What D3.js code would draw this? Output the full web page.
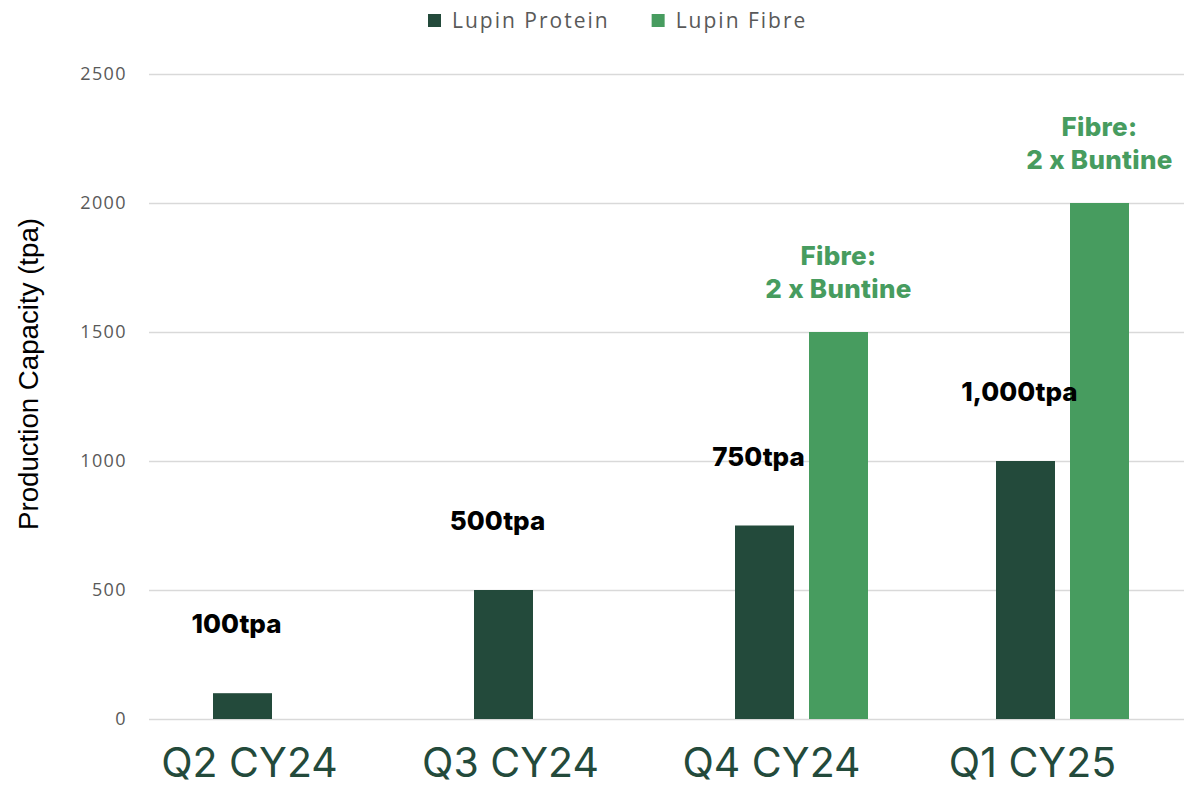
<!DOCTYPE html>
<html>
<head>
<meta charset="utf-8">
<script src="https://cdn.jsdelivr.net/npm/d3@7"></script>
<style>
  body { margin: 0; background: #fff; }
  svg { display: block; }
  .tick line { stroke: #d9d9d9; stroke-width: 1.5; }
  .tick text { fill: #595959; font-family: "Open Sans", sans-serif; font-size: 18px; letter-spacing: 1.4px; }
</style>
</head>
<body>
<svg width="1184" height="786"></svg>
<script>
const categories = ["Q2 CY24", "Q3 CY24", "Q4 CY24", "Q1 CY25"];
const series = ["Lupin Protein", "Lupin Fibre"];
const protein = [100, 500, 750, 1000];
const fibre = [0, 0, 1500, 2000];
const proteinLabels = ["100tpa", "500tpa", "750tpa", "1,000tpa"];
const fibreLabels = [null, null, ["Fibre:", "2 x Buntine"], ["Fibre:", "2 x Buntine"]];
const yTicks = [0, 500, 1000, 1500, 2000, 2500];

const dark = "#234a3b", green = "#479c5f";
const color = d3.scaleOrdinal().domain(series).range([dark, green]);

const svg = d3.select("svg"),
    width = +svg.attr("width"),
    height = +svg.attr("height");

const plotLeft = 149, plotRight = 1193, plotTop = 74, plotBottom = 719;

const x = d3.scaleBand().domain(categories).range([plotLeft, plotRight]);
const xs = d3.scaleBand().domain(series).range([0, x.bandwidth()])
    .paddingInner(0.2027).paddingOuter(0.865);
const y = d3.scaleLinear().domain([0, 2500]).range([plotBottom, plotTop]);

// gridlines + tick labels
const yAxis = svg.append("g")
    .attr("transform", `translate(${plotLeft},0)`)
    .call(d3.axisLeft(y).tickValues(yTicks).tickFormat(d3.format("d"))
        .tickSize(-(width - plotLeft)).tickPadding(22));
yAxis.select(".domain").remove();

const rows = categories.map((c, i) => ({cat: c, protein: protein[i], fibre: fibre[i],
    pl: proteinLabels[i], fl: fibreLabels[i]}));

const group = svg.append("g").selectAll("g")
    .data(rows)
    .enter().append("g")
    .attr("transform", d => `translate(${x(d.cat)},0)`);

group.selectAll("rect")
    .data(d => series.map((s, k) => ({s, v: k === 0 ? d.protein : d.fibre})).filter(e => e.v > 0))
    .enter().append("rect")
      .attr("x", e => xs(e.s))
      .attr("y", e => y(e.v))
      .attr("width", xs.bandwidth())
      .attr("height", e => y(0) - y(e.v))
      .attr("fill", e => color(e.s));

// protein labels
group.append("text")
    .attr("x", xs(series[0]) + xs.bandwidth() / 2 - 6)
    .attr("y", d => y(d.protein) - 60)
    .attr("text-anchor", "middle")
    .style("font-family", "Inter, sans-serif")
    .style("font-weight", 800)
    .style("font-size", "26px")
    .attr("fill", "#000")
    .text(d => d.pl);

// fibre annotations
group.filter(d => d.fl).append("text")
    .attr("text-anchor", "middle")
    .style("font-family", "Inter, sans-serif")
    .style("font-weight", 800)
    .style("font-size", "26px")
    .style("letter-spacing", "0.3px")
    .attr("fill", green)
    .selectAll("tspan")
    .data(d => d.fl.map((t, k) => ({t, k, v: d.fibre})))
    .enter().append("tspan")
      .attr("x", xs(series[1]) + xs.bandwidth() / 2)
      .attr("y", e => y(e.v) - 34 - (1 - e.k) * 33)
      .text(e => e.t);

// category labels
svg.append("g").selectAll("text")
    .data(categories)
    .enter().append("text")
      .attr("x", d => x(d) + x.bandwidth() / 2 - 30)
      .attr("y", 777)
      .attr("text-anchor", "middle")
      .style("font-family", "Inter, sans-serif")
      .style("font-size", "41px")
      .attr("fill", dark)
      .text(d => d);

// y title
svg.append("text")
    .attr("transform", "translate(38,374) rotate(-90)")
    .attr("text-anchor", "middle")
    .attr("textLength", 312)
    .attr("lengthAdjust", "spacingAndGlyphs")
    .style("font-family", "'Liberation Sans', Arial, sans-serif")
    .style("font-size", "27px")
    .attr("fill", "#000")
    .text("Production Capacity (tpa)");

// legend
const legend = svg.append("g");
let lx = 428;
series.forEach(s => {
  legend.append("rect").attr("x", lx).attr("y", 14).attr("width", 13).attr("height", 13).attr("fill", color(s));
  const t = legend.append("text")
      .attr("x", lx + 24).attr("y", 28)
      .style("font-family", "'Open Sans', sans-serif")
      .style("font-size", "21px")
      .style("letter-spacing", "2px")
      .attr("fill", "#595959")
      .text(s);
  lx += 24 + t.node().getComputedTextLength() + 42;
});
</script>
</body>
</html>
